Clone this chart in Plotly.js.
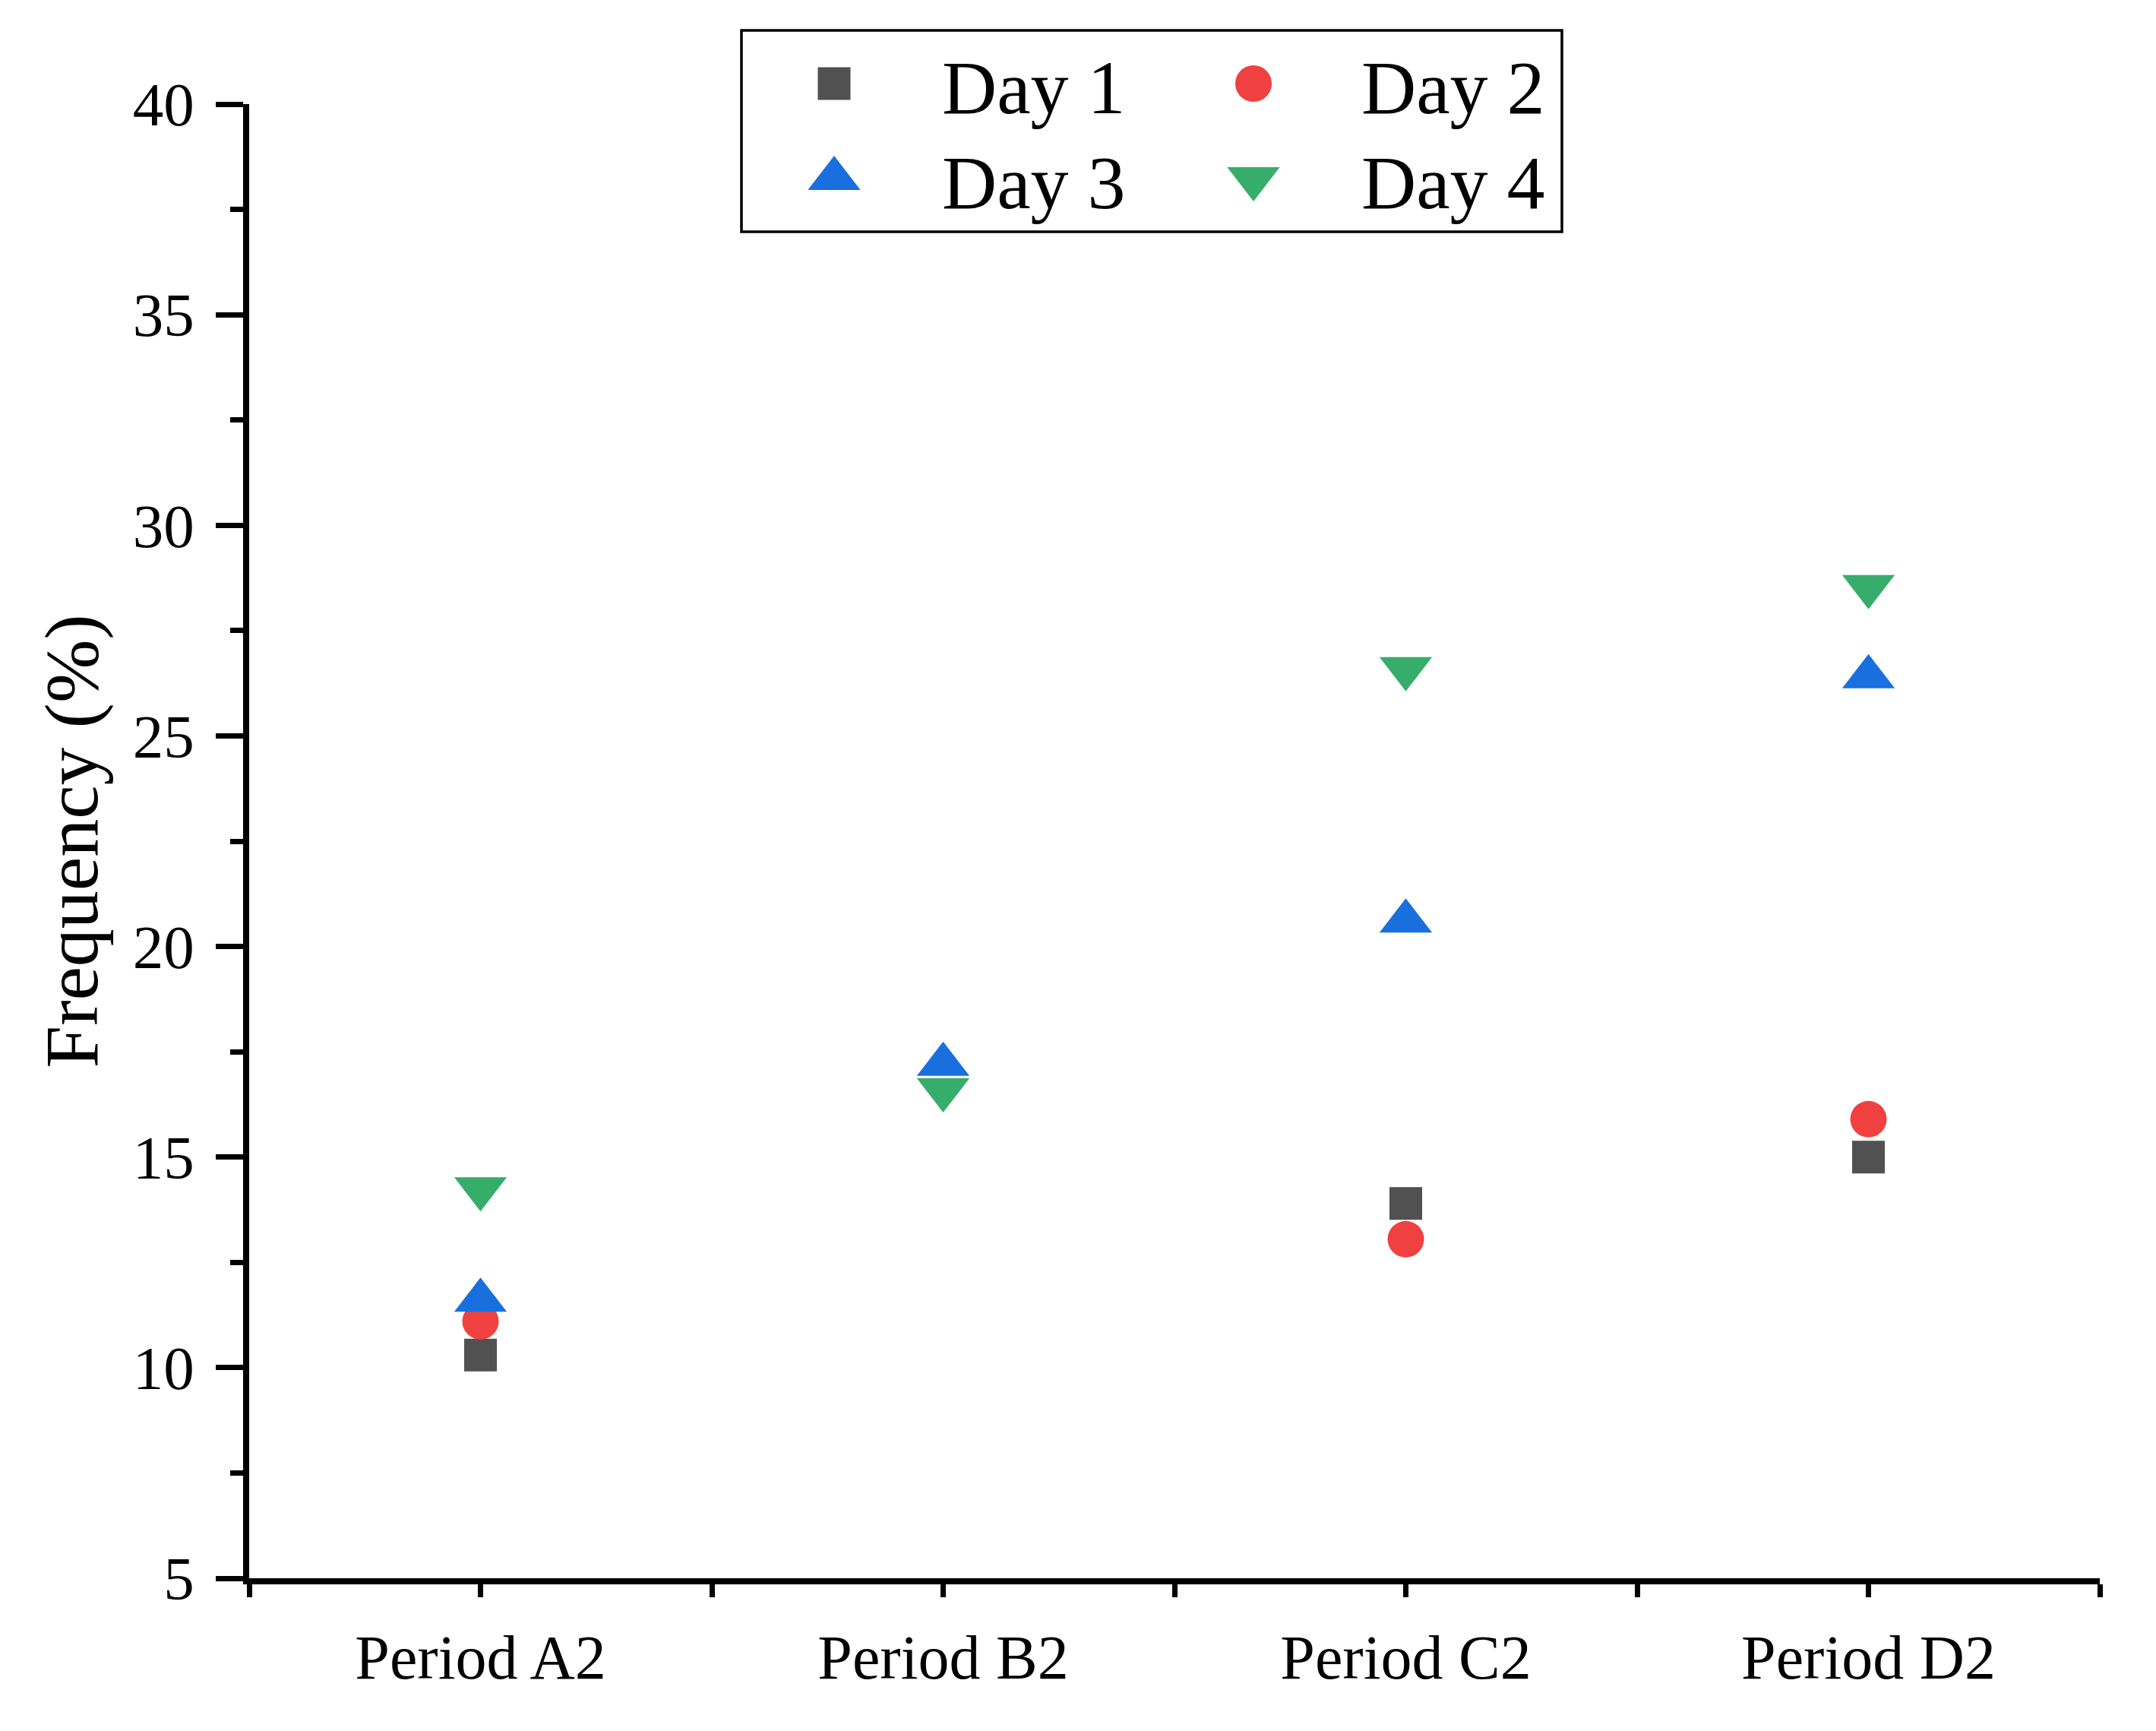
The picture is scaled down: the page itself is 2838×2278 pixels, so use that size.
<!DOCTYPE html>
<html>
<head>
<meta charset="utf-8">
<script src="https://cdn.plot.ly/plotly-3.0.1.min.js"></script>
<style>html,body{margin:0;padding:0;background:#ffffff;}</style>
</head>
<body>
<div id="chart" style="width:2838px;height:2278px;"></div>
<script>
// ---- data ----
const periods = ["Period A2", "Period B2", "Period C2", "Period D2"];
const seriesNames = ["Day 1", "Day 2", "Day 3", "Day 4"];
const day1 = [10.3, null, 13.9, 15.0];
const day2 = [11.1, null, 13.05, 15.9];
const day3 = [11.6, 17.2, 20.6, 26.4];
const day4 = [14.25, 16.6, 26.6, 28.55];
const yTickVals = [5, 10, 15, 20, 25, 30, 35, 40];

// ---- styles ----
const colors = ["#515151", "#F14040", "#1A6FDF", "#37AD6B"];
const symbols = ["square", "circle", "triangle-up", "triangle-down"];
const sizes = [43, 48, 60, 60];
const legendIds = ["legend", "legend", "legend2", "legend2"];
const FONT = "Liberation Serif, Times New Roman, serif";

const xPos = periods.map((_, i) => i);
const allSeries = [day1, day2, day3, day4];

const traces = allSeries.map((vals, i) => ({
  type: "scatter",
  mode: "markers",
  name: seriesNames[i],
  x: xPos,
  y: vals,
  legend: legendIds[i],
  marker: { symbol: symbols[i], color: colors[i], size: sizes[i], line: { width: 0 } },
  hoverinfo: "x+y+name"
}));

const W = 2838, H = 2278;
const mL = 328, mR = 74, mT = 137, mB = 201;
const plotW = W - mL - mR, plotH = H - mT - mB;
const px2x = p => (p - mL) / plotW;
const px2y = p => (H - mB - p) / plotH;

const legendCommon = {
  orientation: "h",
  xanchor: "left",
  yanchor: "middle",
  bgcolor: "rgba(0,0,0,0)",
  borderwidth: 0,
  font: { family: FONT, size: 100, color: "#000" },
  itemwidth: 274,
  entrywidth: 263,
  entrywidthmode: "pixels",
  itemclick: false,
  itemdoubleclick: false
};

const layout = {
  width: W,
  height: H,
  margin: { l: mL, r: mR, t: mT, b: mB, pad: 0 },
  paper_bgcolor: "#ffffff",
  plot_bgcolor: "#ffffff",
  font: { family: FONT, color: "#000" },
  showlegend: true,
  legend: Object.assign({}, legendCommon, { x: px2x(956), y: px2y(110) }),
  legend2: Object.assign({}, legendCommon, { x: px2x(956), y: px2y(235) }),
  xaxis: {
    type: "linear",
    range: [-0.5, 3.5],
    tickmode: "array",
    tickvals: xPos,
    ticktext: periods,
    showgrid: false,
    zeroline: false,
    showline: true,
    linecolor: "#000",
    linewidth: 8,
    ticks: "outside",
    ticklen: 17,
    tickwidth: 7,
    tickcolor: "#000",
    ticklabelstandoff: 9,
    tickfont: { family: FONT, size: 82, color: "#000" },
    minor: { tick0: -0.5, dtick: 1, ticks: "outside", ticklen: 17, tickwidth: 7, tickcolor: "#000", showgrid: false },
    fixedrange: true
  },
  yaxis: {
    range: [5, 40],
    tickmode: "array",
    tickvals: yTickVals,
    showgrid: false,
    zeroline: false,
    showline: true,
    linecolor: "#000",
    linewidth: 8,
    ticks: "outside",
    ticklen: 36,
    tickwidth: 7,
    tickcolor: "#000",
    ticklabelstandoff: 12,
    tickfont: { family: FONT, size: 81, color: "#000" },
    minor: { tick0: 2.5, dtick: 5, ticks: "outside", ticklen: 17, tickwidth: 7, tickcolor: "#000", showgrid: false },
    title: { text: "Frequency (%)", font: { family: FONT, size: 100, color: "#000" }, standoff: 16 },
    fixedrange: true
  },
  shapes: [{
    type: "rect",
    xref: "paper", yref: "paper",
    x0: px2x(976), x1: px2x(2056),
    y0: px2y(305), y1: px2y(40),
    line: { color: "#000", width: 3.5 },
    fillcolor: "rgba(0,0,0,0)",
    layer: "above"
  }]
};

const gd = document.getElementById("chart");
Plotly.newPlot(gd, traces, layout, { displayModeBar: false, staticPlot: true }).then(() => {
  // enlarge legend symbols to match the trace marker sizes (legend caps them at 16px)
  gd.querySelectorAll(".infolayer .traces").forEach(g => {
    let dd = g.__data__;
    while (Array.isArray(dd)) dd = dd[0];
    if (!dd || !dd.trace) return;
    const k = dd.trace.marker.size / 16;
    g.querySelectorAll(".legendpoints path").forEach(p => {
      const t = p.getAttribute("transform") || "";
      p.setAttribute("transform", t + " scale(" + k + ")");
    });
  });
});
</script>
</body>
</html>
